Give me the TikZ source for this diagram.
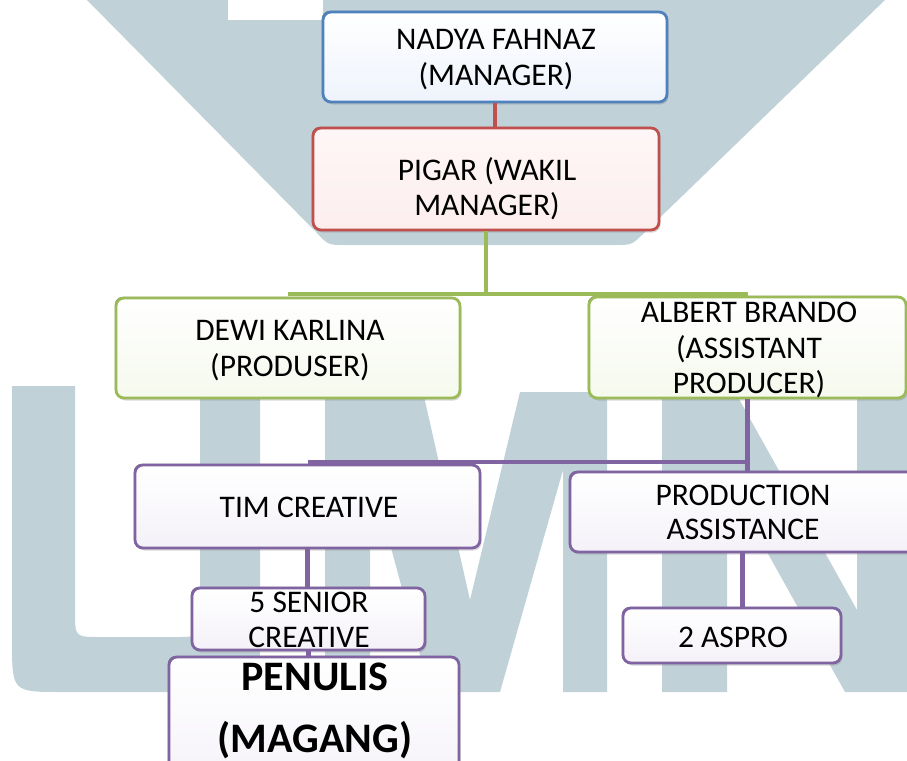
\documentclass[tikz,border=0pt]{standalone}
\usepackage{fontspec}
\setmainfont{Carlito}
\usetikzlibrary{shadows}
\definecolor{wm}{RGB}{192,210,216}
\definecolor{cblue}{RGB}{79,129,189}
\definecolor{cred}{RGB}{192,80,77}
\definecolor{cgreen}{RGB}{155,187,89}
\definecolor{cpurple}{RGB}{128,100,162}
\definecolor{fblue}{RGB}{238,243,252}
\definecolor{fred}{RGB}{253,238,238}
\definecolor{fgreen}{RGB}{245,249,237}
\definecolor{fpurple}{RGB}{244,241,248}
\begin{document}
\begin{tikzpicture}[x=1pt,y=-1pt,
  box/.style={draw, line width=2.8pt, rounded corners=8pt, inner sep=0pt,
    general shadow={fill=black!50, shadow xshift=-1.2pt, shadow yshift=1.2pt},
    drop shadow={opacity=0.3, shadow xshift=1.5pt, shadow yshift=-2.5pt}},
  bluebox/.style={box, draw=cblue, top color=white, bottom color=fblue},
  redbox/.style={box, draw=cred, top color=white!50!fred, bottom color=fred},
  greenbox/.style={box, draw=cgreen, top color=white, bottom color=fgreen},
  purplebox/.style={box, draw=cpurple, top color=white, bottom color=fpurple},
  tx/.style={font=\fontsize{31.5}{35}\selectfont, anchor=base, inner sep=0pt},
  btx/.style={font=\fontsize{42}{48}\selectfont\bfseries, anchor=base, inner sep=0pt},
  conn/.style={line width=4.5pt},
]
\useasboundingbox (0,0) rectangle (907,760);
\fill[white] (0,0) rectangle (907,760);
% watermark
\fill[wm] (87,0) -- (885,0) -- (645,232) .. controls (632,245) .. (615,245) -- (345,245) .. controls (328,245) .. (316,232) -- cycle;
\fill[white] (228,0) rectangle (323,20);
\fill[wm] (12,386) -- (75,386) -- (75,612) .. controls (75,637) .. (100,637) -- (175,637) .. controls (200,637) .. (200,612) -- (200,392) -- (260,392) -- (260,640) .. controls (260,692) .. (210,692) -- (62,692) .. controls (12,692) .. (12,640) -- cycle;
\fill[wm] (325,392) -- (423,392) -- (470,600) -- (520,392) -- (607,392) -- (607,692) -- (563,692) -- (563,470) -- (500,692) -- (430,692) -- (370,470) -- (370,692) -- (325,692) -- cycle;
\fill[wm] (662,392) -- (735,392) -- (857,610) -- (857,392) -- (907,392) -- (907,692) -- (845,692) -- (727,480) -- (727,692) -- (662,692) -- cycle;

% boxes
\node[bluebox, minimum width=344pt, minimum height=90pt] (nadya) at (495,57) {};
\node[redbox, minimum width=346pt, minimum height=102pt] (pigar) at (486,179) {};
\node[greenbox, minimum width=344pt, minimum height=100pt] (dewi) at (288,348) {};
\node[greenbox, minimum width=317pt, minimum height=101pt] (albert) at (747.5,347.5) {};
\node[purplebox, minimum width=345pt, minimum height=83pt] (tim) at (307.5,506.5) {};
\node[purplebox, minimum width=345pt, minimum height=80pt] (prod) at (742.5,512) {};
\node[purplebox, minimum width=233pt, minimum height=62pt] (senior) at (308.5,619) {};
\node[purplebox, minimum width=218pt, minimum height=55pt] (aspro) at (732,635.5) {};
\node[purplebox, minimum width=290pt, minimum height=143pt] (penulis) at (314,728.5) {};

% connectors
\coordinate (gbus) at (0,294);
\coordinate (pbus) at (0,462);
\draw[conn, cred, line width=4pt] (nadya.south) -- (nadya.south |- pigar.north);
\draw[conn, cgreen] (pigar.south) -- (pigar.south |- gbus);
\draw[conn, cgreen] (dewi.north |- gbus) -- (albert.north |- gbus);
\draw[conn, cpurple] (albert.south) -- (albert.south |- pbus);
\draw[conn, cpurple] (tim.north |- pbus) -- (albert.south |- pbus);
\draw[conn, cpurple] (albert.south |- pbus) -- (albert.south |- prod.north);
\draw[conn, cpurple] (tim.south) -- (tim.south |- senior.north);
\draw[conn, cpurple] (senior.south) -- (senior.south |- penulis.north);
\draw[conn, cpurple] (prod.south) -- (prod.south |- aspro.north);

% texts
\node[tx] (t1a) at (496,50) {NADYA FAHNAZ};
\node[tx] (t1b) at (496,85) {(MANAGER)};
\node[tx] (t2a) at (487,180) {PIGAR (WAKIL};
\node[tx] (t2b) at (487,215) {MANAGER)};
\node[tx] (t3a) at (290,340) {DEWI KARLINA};
\node[tx] (t3b) at (290,376) {(PRODUSER)};
\node[tx] (t4a) at (749,322) {ALBERT BRANDO};
\node[tx] (t4b) at (749,358) {(ASSISTANT};
\node[tx] (t4c) at (749,393) {PRODUCER)};
\node[tx] (t5a) at (309,517) {TIM CREATIVE};
\node[tx] (t6a) at (743,505) {PRODUCTION};
\node[tx] (t6b) at (743,539) {ASSISTANCE};
\node[tx] (t7a) at (309,612) {5 SENIOR};
\node[tx] (t7b) at (309,647) {CREATIVE};
\node[tx] (t8a) at (733,647) {2 ASPRO};
\node[btx] (t9a) at (315,690) {PENULIS};
\node[btx] (t9b) at (315,752) {(MAGANG)};
\end{tikzpicture}
\end{document}
